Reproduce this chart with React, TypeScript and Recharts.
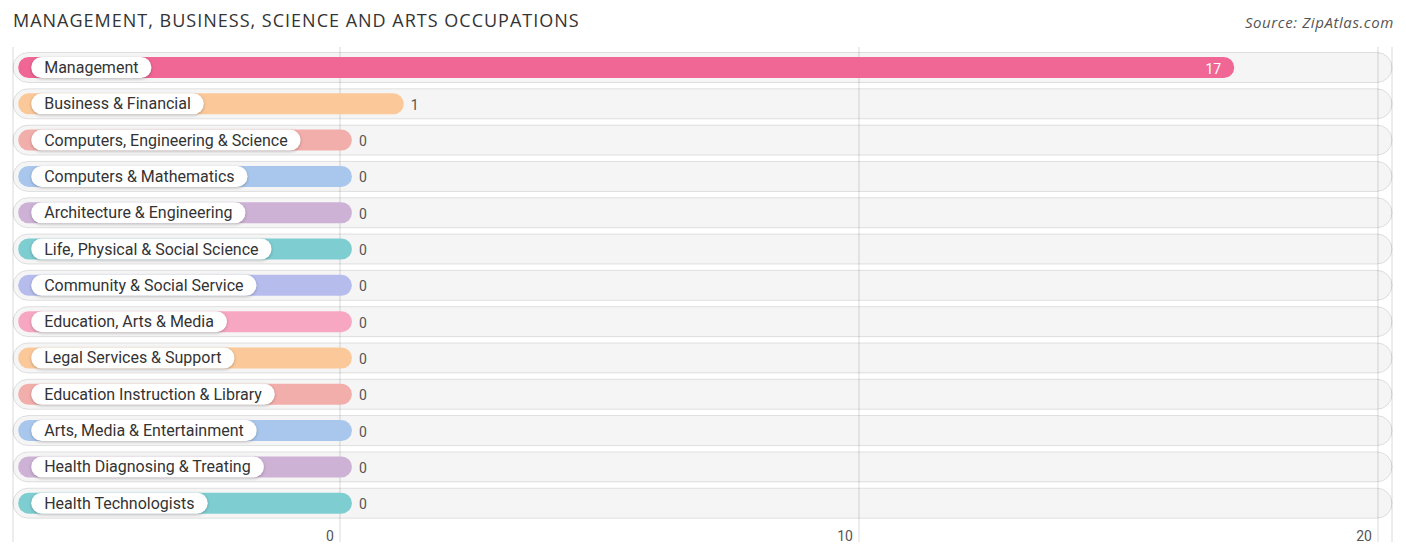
import { BarChart, Bar, XAxis, YAxis, CartesianGrid, Cell, LabelList } from 'recharts'

const occupations = [
  'Management',
  'Business & Financial',
  'Computers, Engineering & Science',
  'Computers & Mathematics',
  'Architecture & Engineering',
  'Life, Physical & Social Science',
  'Community & Social Service',
  'Education, Arts & Media',
  'Legal Services & Support',
  'Education Instruction & Library',
  'Arts, Media & Entertainment',
  'Health Diagnosing & Treating',
  'Health Technologists',
]

const counts = [17, 1, 0, 0, 0, 0, 0, 0, 0, 0, 0, 0, 0]

const barColors = [
  '#f06694',
  '#fbc999',
  '#f2aeab',
  '#a9c7ec',
  '#cdb2d6',
  '#7ecdd1',
  '#b6bdec',
  '#f7a7c2',
  '#fbc999',
  '#f2aeab',
  '#a9c7ec',
  '#cdb2d6',
  '#7ecdd1',
]

const xTicks = [0, 10, 20]

// axis extends left of zero to leave room for the label pills
const DOMAIN: [number, number] = [-6.3, 20.27]
const BAR_START = -6.2
const BAR_CAP = 0.23

const data = occupations.map((name, i) => ({ name, value: counts[i] }))
const maxValue = Math.max(...counts)

const FONT = 'Roboto, "Noto Sans", sans-serif'
const LABEL_SIZE = 16

let ctx: CanvasRenderingContext2D | null = null
const textWidth = (s: string) => {
  if (!ctx) ctx = document.createElement('canvas').getContext('2d')
  if (!ctx) return s.length * 8.5
  ctx.font = `${LABEL_SIZE}px ${FONT}`
  return ctx.measureText(s).width
}

const RowBackground = (props: any) => {
  const { x, y, width, height } = props
  return (
    <rect
      x={x}
      y={y - 4.5}
      width={width}
      height={height + 9}
      rx={(height + 9) / 2}
      fill="rgba(0,0,0,0.04)"
      stroke="rgba(0,0,0,0.11)"
      strokeWidth={1}
    />
  )
}

const BarWithLabel = (props: any) => {
  const { x, y, width, height, fill, payload } = props
  const label = payload.name as string
  const pillW = textWidth(label) + 26
  return (
    <g>
      <rect x={x} y={y} width={width} height={height} rx={height / 2} fill={fill} />
      <rect
        x={x + 13}
        y={y}
        width={pillW}
        height={height}
        rx={height / 2}
        fill="#fff"
        style={{ filter: 'drop-shadow(0 1px 1.5px rgba(0,0,0,0.25))' }}
      />
      <text
        x={x + 26}
        y={y + height / 2}
        dominantBaseline="central"
        fontFamily={FONT}
        fontSize={LABEL_SIZE}
        fill="#333"
      >
        {label}
      </text>
    </g>
  )
}

const ValueLabel = (props: any) => {
  const { x, y, width, height, index } = props
  const v = counts[index]
  const inside = v / maxValue > 0.5
  return (
    <text
      x={inside ? x + width - 13 : x + width + 7}
      y={y + height / 2 + 1}
      dominantBaseline="central"
      textAnchor={inside ? 'end' : 'start'}
      fontFamily={FONT}
      fontSize={14}
      fill={inside ? '#fff' : '#555'}
    >
      {v}
    </text>
  )
}

const AxisTick = (props: any) => {
  const { x, y, payload } = props
  return (
    <text x={x - 6} y={y - 9} textAnchor="end" fontFamily={FONT} fontSize={14} fill="#555">
      {payload.value}
    </text>
  )
}

export default function App() {
  return (
    <div style={{ position: 'absolute', left: 0, top: 0, width: 1406, height: 558, background: '#fff' }}>
      <svg width={1406} height={40} style={{ position: 'absolute', left: 0, top: 0 }}>
        <text
          x={13}
          y={27}
          fontFamily='"Open Sans", sans-serif'
          fontSize={18}
          letterSpacing={1}
          fill="#333"
        >
          MANAGEMENT, BUSINESS, SCIENCE AND ARTS OCCUPATIONS
        </text>
        <text
          x={1394}
          y={28}
          textAnchor="end"
          fontFamily='"Open Sans", sans-serif'
          fontStyle="italic"
          fontSize={15}
          letterSpacing={0.6}
          fill="#555"
        >
          Source: ZipAtlas.com
        </text>
      </svg>
      <div style={{ position: 'absolute', left: 0, top: 0 }}>
        <BarChart
          width={1406}
          height={558}
          data={data}
          layout="vertical"
          margin={{ top: 47, right: 14, bottom: 0, left: 13 }}
        >
          <CartesianGrid horizontal={false} stroke="#dadada" />
          <XAxis
            type="number"
            domain={DOMAIN}
            ticks={xTicks}
            height={16}
            axisLine={false}
            tickLine={false}
            tick={<AxisTick />}
            allowDataOverflow
          />
          <YAxis type="category" dataKey="name" hide padding={{ top: 2, bottom: 21 }} />
          <Bar
            dataKey={(d: any) => [BAR_START, d.value + BAR_CAP]}
            barSize={21}
            background={<RowBackground />}
            shape={<BarWithLabel />}
            isAnimationActive={false}
          >
            {data.map((d, i) => (
              <Cell key={d.name} fill={barColors[i]} />
            ))}
            <LabelList dataKey="value" content={<ValueLabel />} />
          </Bar>
        </BarChart>
      </div>
    </div>
  )
}
